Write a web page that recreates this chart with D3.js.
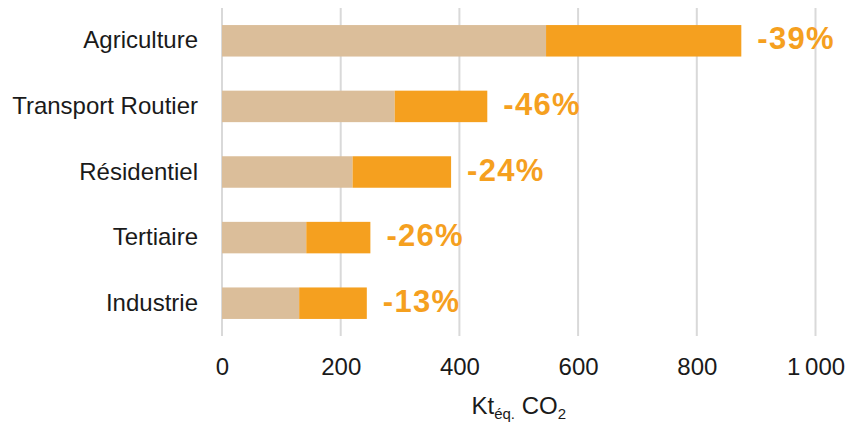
<!DOCTYPE html>
<html lang="fr">
<head>
<meta charset="utf-8">
<script src="https://cdn.jsdelivr.net/npm/d3@7"></script>
<style>
  html, body { margin: 0; padding: 0; background: #fff; }
  svg { display: block; font-family: "Liberation Sans", Arial, sans-serif; }
</style>
</head>
<body>
<svg id="chart" width="848" height="427"></svg>
<script>
// Émissions par secteur (kt éq. CO2) : part restante + réduction
const categories = ["Agriculture", "Transport Routier", "Résidentiel", "Tertiaire", "Industrie"];
const remaining  = [546, 291, 220, 142, 130];
const reduction  = [329, 156, 166, 108, 114];
const pctLabels  = ["-39%", "-46%", "-24%", "-26%", "-13%"];
const tickValues = [0, 200, 400, 600, 800, 1000];
const tickLabels = ["0", "200", "400", "600", "800", "1\u2009000"];

const colors = { remaining: "#dbbe9a", reduction: "#f5a01f", grid: "#d9d9d9", text: "#1a1a1a" };

const svg = d3.select("#chart");
const margin = { left: 222, right: 32, top: 8, bottom: 91 };
const W = 848, H = 427;

const x = d3.scaleLinear().domain([0, 1000]).range([margin.left, 815.5]);
const y = d3.scaleBand().domain(categories)
  .range([margin.top, H - margin.bottom])
  .paddingInner(0.52).paddingOuter(0.26);

// vertical gridlines
svg.append("g").selectAll("line").data(tickValues).join("line")
  .attr("x1", d => x(d)).attr("x2", d => x(d))
  .attr("y1", margin.top).attr("y2", H - margin.bottom)
  .attr("stroke", colors.grid).attr("stroke-width", 2);

// stacked bars
const rows = categories.map((c, i) => ({ cat: c, a: remaining[i], b: reduction[i], pct: pctLabels[i] }));
const stack = d3.stack().keys(["a", "b"])(rows);
const fills = [colors.remaining, colors.reduction];

svg.append("g").selectAll("g").data(stack).join("g")
  .attr("fill", (d, i) => fills[i])
  .selectAll("rect").data(d => d).join("rect")
  .attr("x", d => x(d[0]))
  .attr("width", d => x(d[1]) - x(d[0]))
  .attr("y", d => y(d.data.cat))
  .attr("height", y.bandwidth());

// percentage labels at the end of each bar
svg.append("g").selectAll("text").data(rows).join("text")
  .attr("x", d => x(d.a + d.b) + 16)
  .attr("y", d => y(d.cat) + y.bandwidth() / 2 + 8.5)
  .attr("fill", colors.reduction)
  .attr("font-size", 31).attr("font-weight", "bold")
  .attr("letter-spacing", 1.3)
  .text(d => d.pct);

// category axis
const yAxis = svg.append("g")
  .attr("transform", `translate(${margin.left},0)`)
  .call(d3.axisLeft(y).tickSize(0).tickPadding(24));
yAxis.select(".domain").remove();
yAxis.selectAll("text")
  .attr("font-size", 24).attr("fill", colors.text)
  .attr("font-family", "Liberation Sans, Arial, sans-serif");

// value axis
const xAxis = svg.append("g")
  .attr("transform", `translate(0,${H - margin.bottom})`)
  .call(d3.axisBottom(x).tickValues(tickValues).tickSize(0).tickPadding(0)
    .tickFormat((d, i) => tickLabels[i]));
xAxis.select(".domain").remove();
xAxis.selectAll("text")
  .attr("font-size", 24).attr("fill", colors.text)
  .attr("font-family", "Liberation Sans, Arial, sans-serif")
  .attr("dy", null).attr("y", 39);

// axis title with subscripts
const title = svg.append("text")
  .attr("x", (x(0) + x(1000)) / 2).attr("y", 414)
  .attr("text-anchor", "middle").attr("fill", colors.text)
  .attr("font-size", 24);
title.append("tspan").text("Kt");
title.append("tspan").attr("font-size", 15).attr("dy", 5).text("éq.");
title.append("tspan").attr("dy", -5).text(" CO");
title.append("tspan").attr("font-size", 15).attr("dy", 5).text("2");
</script>
</body>
</html>
